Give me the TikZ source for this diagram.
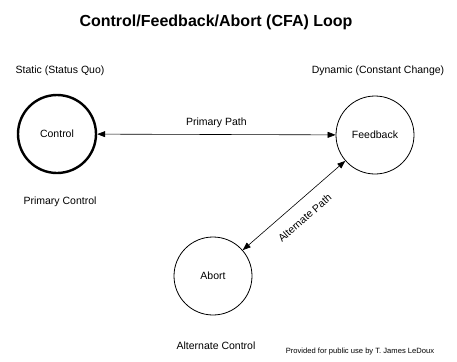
\documentclass[tikz,border=0pt]{standalone}
\usepackage{fontspec}
\setmainfont{Liberation Sans}
\usepackage{xcolor}
\usetikzlibrary{arrows.meta,positioning}

\begin{document}
\begin{tikzpicture}[x=1pt, y=-1pt,
  state/.style={circle, draw=black, minimum size=78pt, inner sep=0pt, font=\fontsize{10.5}{12}\selectfont},
  label/.style={font=\fontsize{10.5}{12}\selectfont},
  arrow/.style={{Triangle[length=8pt,width=6pt]}-{Triangle[length=8pt,width=6pt]}, line width=0.6pt}
]
\useasboundingbox (0,0) rectangle (457,361);
\node[font=\bfseries\fontsize{16}{19}\selectfont] (title) at (216,22) {Control/Feedback/Abort (CFA) Loop};

\node[state, line width=2.4pt] (control) at (57,134) {Control};
\node[state, line width=0.8pt] (feedback) at (375,135) {Feedback};
\node[state, line width=0.8pt] (abort) at (213,276) {Abort};

\node[label] (static) at (60,71) {Static (Status Quo)};
\node[label] (dynamic) at (378,71) {Dynamic (Constant Change)};
\node[label] (primctl) at (60,202) {Primary Control};
\node[label] (altctl) at (216,346) {Alternate Control};
\node[font=\fontsize{7.6}{9}\selectfont] (credit) at (360,352) {Provided for public use by T. James LeDoux};

\draw[arrow] (control) -- node[label, above=3pt] {Primary Path} (feedback);
\draw[arrow] (abort) -- node[label, sloped, below=9pt] {Alternate Path} (feedback);
\end{tikzpicture}
\end{document}
